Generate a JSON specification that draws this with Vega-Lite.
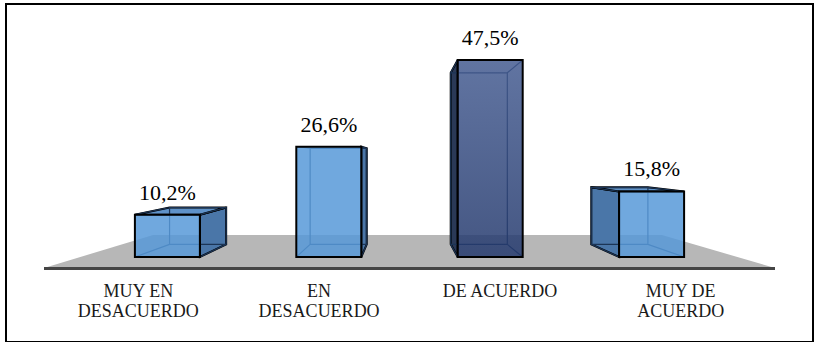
{
  "$schema": "https://vega.github.io/schema/vega-lite/v6.json",
  "width": 807,
  "height": 338,
  "autosize": {"type": "none"},
  "padding": {"left": 6, "top": 4, "right": 1, "bottom": 0},
  "background": "#ffffff",
  "config": {
    "view": {"stroke": "#000000", "strokeWidth": 2},
    "locale": {"number": {"decimal": ",", "thousands": ".", "grouping": [3], "currency": ["", " €"]}},
    "text": {"font": "'Liberation Serif', 'DejaVu Serif', serif"}
  },
  "data": {
    "values": [
      {"cat": "MUY EN\nDESACUERDO", "value": 0.102},
      {"cat": "EN\nDESACUERDO", "value": 0.266},
      {"cat": "DE ACUERDO", "value": 0.475},
      {"cat": "MUY DE\nACUERDO", "value": 0.158}
    ]
  },
  "layer": [
    {
      "data": {"values": [{}]},
      "mark": {"type": "point", "shape": "M-123.4,11L607.6,11L494.6,-22L-14.4,-22Z", "size": 4, "filled": true, "fill": "#b7b7b7", "opacity": 1, "strokeWidth": 0},
      "encoding": {
        "x": {"datum": "MUY EN\nDESACUERDO", "type": "nominal", "scale": {"type": "point", "padding": 1, "domain": ["MUY EN\nDESACUERDO", "EN\nDESACUERDO", "DE ACUERDO", "MUY DE\nACUERDO"]}, "axis": null},
        "y": {"datum": 0, "type": "quantitative", "scale": {"domain": [-0.205, 0.6101], "nice": false, "zero": false}, "axis": null}
      }
    },
    {
      "data": {"values": [{}]},
      "mark": {"type": "rule", "stroke": "#454545", "strokeWidth": 3, "xOffset": -123.4, "x2Offset": 123.4, "yOffset": 11.5},
      "encoding": {
        "x": {"datum": "MUY EN\nDESACUERDO", "type": "nominal", "scale": {"type": "point", "padding": 1, "domain": ["MUY EN\nDESACUERDO", "EN\nDESACUERDO", "DE ACUERDO", "MUY DE\nACUERDO"]}, "axis": null},
        "x2": {"datum": "MUY DE\nACUERDO"},
        "y": {"datum": 0, "type": "quantitative", "scale": {"domain": [-0.205, 0.6101], "nice": false, "zero": false}, "axis": null}
      }
    },
    {
      "mark": {"type": "point", "size": 4, "filled": true, "opacity": 1, "stroke": "#000000", "strokeWidth": 2, "strokeJoin": "miter",
        "shape": {"expr": "'M'+(32.5*(scale('x',datum.cat)<397.5?1:-1))+',0L'+((0.129*(397.5-scale('x',datum.cat)))+28.3*(scale('x',datum.cat)<397.5?1:-1))+','+(0.129*(155-scale('y',datum.value)))+'L'+((0.129*(397.5-scale('x',datum.cat)))+28.3*(scale('x',datum.cat)<397.5?1:-1))+','+((0.129*(155-scale('y',datum.value)))+0.871*(scale('y',0)-scale('y',datum.value)))+'L'+(32.5*(scale('x',datum.cat)<397.5?1:-1))+','+(scale('y',0)-scale('y',datum.value))+'Z'"}},
      "encoding": {
        "x": {"field": "cat", "type": "nominal", "scale": {"type": "point", "padding": 1, "domain": ["MUY EN\nDESACUERDO", "EN\nDESACUERDO", "DE ACUERDO", "MUY DE\nACUERDO"]}, "axis": null},
        "y": {"field": "value", "type": "quantitative", "scale": {"domain": [-0.205, 0.6101], "nice": false, "zero": false}, "axis": null},
        "color": {"condition": {"test": "datum.value > 0.4", "value": "#2a3957"}, "value": "#4a76a8"}
      }
    },
    {
      "mark": {"type": "point", "size": 4, "filled": true, "opacity": 1, "stroke": "#000000", "strokeWidth": 2, "strokeJoin": "miter",
        "shape": {"expr": "scale('y',datum.value)>155?'M-32.5,0L32.5,0L'+((0.129*(397.5-scale('x',datum.cat)))+28.3)+','+(0.129*(155-scale('y',datum.value)))+'L'+((0.129*(397.5-scale('x',datum.cat)))-28.3)+','+(0.129*(155-scale('y',datum.value)))+'Z':'M0,0'"}},
      "encoding": {
        "x": {"field": "cat", "type": "nominal", "scale": {"type": "point", "padding": 1, "domain": ["MUY EN\nDESACUERDO", "EN\nDESACUERDO", "DE ACUERDO", "MUY DE\nACUERDO"]}, "axis": null},
        "y": {"field": "value", "type": "quantitative", "scale": {"domain": [-0.205, 0.6101], "nice": false, "zero": false}, "axis": null},
        "color": {"condition": {"test": "datum.value > 0.4", "value": "#3a4d75"}, "value": "#5f92c9"}
      }
    },
    {
      "mark": {"type": "point", "size": 4, "filled": false, "opacity": 1, "stroke": "#1c3556", "strokeWidth": 1.2,
        "shape": {"expr": "'M'+((0.129*(397.5-scale('x',datum.cat)))-28.3)+','+((0.129*(155-scale('y',datum.value)))+0.871*(scale('y',0)-scale('y',datum.value)))+'L'+((0.129*(397.5-scale('x',datum.cat)))-28.3)+','+(0.129*(155-scale('y',datum.value)))+'L'+((0.129*(397.5-scale('x',datum.cat)))+28.3)+','+(0.129*(155-scale('y',datum.value)))+'L'+((0.129*(397.5-scale('x',datum.cat)))+28.3)+','+((0.129*(155-scale('y',datum.value)))+0.871*(scale('y',0)-scale('y',datum.value)))+'ZM-32.5,'+(scale('y',0)-scale('y',datum.value))+'L'+((0.129*(397.5-scale('x',datum.cat)))-28.3)+','+((0.129*(155-scale('y',datum.value)))+0.871*(scale('y',0)-scale('y',datum.value)))+'M32.5,'+(scale('y',0)-scale('y',datum.value))+'L'+((0.129*(397.5-scale('x',datum.cat)))+28.3)+','+((0.129*(155-scale('y',datum.value)))+0.871*(scale('y',0)-scale('y',datum.value)))+'M-32.5,0L'+((0.129*(397.5-scale('x',datum.cat)))-28.3)+','+(0.129*(155-scale('y',datum.value)))+'M32.5,0L'+((0.129*(397.5-scale('x',datum.cat)))+28.3)+','+(0.129*(155-scale('y',datum.value)))"}},
      "encoding": {
        "x": {"field": "cat", "type": "nominal", "scale": {"type": "point", "padding": 1, "domain": ["MUY EN\nDESACUERDO", "EN\nDESACUERDO", "DE ACUERDO", "MUY DE\nACUERDO"]}, "axis": null},
        "y": {"field": "value", "type": "quantitative", "scale": {"domain": [-0.205, 0.6101], "nice": false, "zero": false}, "axis": null}
      }
    },
    {
      "mark": {"type": "bar", "width": 65, "stroke": "#000000", "strokeWidth": 2, "fillOpacity": 0.85},
      "encoding": {
        "x": {"field": "cat", "type": "nominal", "scale": {"type": "point", "padding": 1, "domain": ["MUY EN\nDESACUERDO", "EN\nDESACUERDO", "DE ACUERDO", "MUY DE\nACUERDO"]}, "axis": null},
        "y": {"field": "value", "type": "quantitative", "scale": {"domain": [-0.205, 0.6101], "nice": false, "zero": false}, "axis": null},
        "y2": {"datum": 0},
        "color": {"condition": {"test": "datum.value > 0.4", "value": {"gradient": "linear", "x1": 0, "y1": 0, "x2": 0, "y2": 1, "stops": [{"offset": 0, "color": "#455c91"}, {"offset": 1, "color": "#24396d"}]}}, "value": "#5799d8"}
      }
    },
    {
      "mark": {"type": "text", "fontSize": 22, "font": "'Liberation Serif', 'DejaVu Serif', serif", "baseline": "alphabetic", "align": "center", "dy": -15, "color": "#000000"},
      "encoding": {
        "x": {"field": "cat", "type": "nominal", "scale": {"type": "point", "padding": 1, "domain": ["MUY EN\nDESACUERDO", "EN\nDESACUERDO", "DE ACUERDO", "MUY DE\nACUERDO"]}, "axis": null},
        "y": {"field": "value", "type": "quantitative", "scale": {"domain": [-0.205, 0.6101], "nice": false, "zero": false}, "axis": null},
        "text": {"field": "value", "type": "quantitative", "format": ".1%"}
      }
    },
    {
      "mark": {"type": "text", "fontSize": 18, "font": "'Liberation Serif', 'DejaVu Serif', serif", "baseline": "alphabetic", "align": "center", "lineBreak": "\n", "lineHeight": 20, "dy": 40, "color": "#1a1a1a",
        "dx": {"expr": "0.12*(scale('x',datum.cat)-403.5)"}},
      "encoding": {
        "x": {"field": "cat", "type": "nominal", "scale": {"type": "point", "padding": 1, "domain": ["MUY EN\nDESACUERDO", "EN\nDESACUERDO", "DE ACUERDO", "MUY DE\nACUERDO"]}, "axis": null},
        "y": {"datum": 0, "type": "quantitative", "scale": {"domain": [-0.205, 0.6101], "nice": false, "zero": false}, "axis": null},
        "text": {"field": "cat", "type": "nominal"}
      }
    }
  ]
}
